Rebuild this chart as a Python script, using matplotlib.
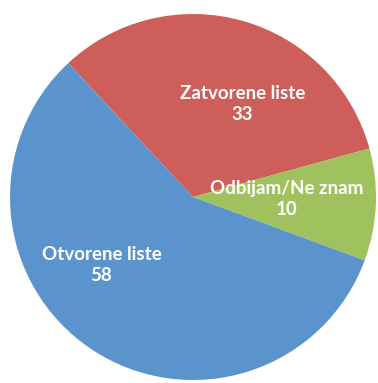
import matplotlib.pyplot as plt

# Survey answers: open vs closed candidate lists
labels = ["Zatvorene liste", "Odbijam/Ne znam", "Otvorene liste"]
values = [33, 10, 58]
colors = ["#CD5E59", "#A0C25E", "#5B94CC"]
# where each label sits, in pie units (center 0,0, radius 1)
label_pos = [(0.27, 0.51), (0.51, -0.01), (-0.50, -0.37)]

fig = plt.figure(figsize=(3.78, 3.83), dpi=100)
ax = fig.add_axes([10 / 378, 2 / 383, 366 / 378, 368 / 383])

ax.pie(values, colors=colors, startangle=133, counterclock=False,
       radius=1, wedgeprops={"linewidth": 0})

for lab, val, (x, y) in zip(labels, values, label_pos):
    ax.text(x, y, f"{lab}\n{val}", ha="center", va="center",
            color="white", fontsize=13.5, fontweight="bold",
            family="Lato", linespacing=1.3)

ax.set_xlim(-1, 1)
ax.set_ylim(-1, 1)
ax.set_aspect("equal")
ax.axis("off")

fig.savefig("out.png", dpi=100)
